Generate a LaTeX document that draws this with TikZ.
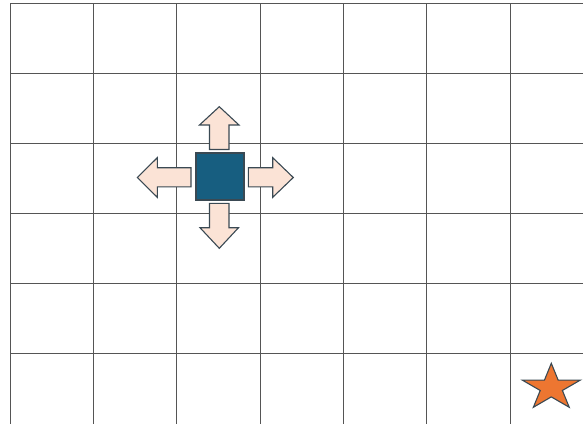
\documentclass[tikz,border=0pt]{standalone}
\definecolor{gridc}{HTML}{555555}
\definecolor{peach}{HTML}{FBE3D6}
\definecolor{edgec}{HTML}{3A4953}
\definecolor{sqfill}{HTML}{175E80}
\definecolor{starfill}{HTML}{ED7631}
\tikzset{
  gridline/.style={draw=gridc, line width=0.85pt},
  movearrow/.style={fill=peach, draw=edgec, line width=1.1pt, line join=miter},
  agent/.style={rectangle, fill=sqfill, draw=edgec, line width=1.1pt, minimum width=48pt, minimum height=47pt, inner sep=0pt},
  goalstar/.style={fill=starfill, draw=edgec, line width=1.1pt, line join=miter}
}
\begin{document}
\begin{tikzpicture}[x=1pt,y=-1pt]
\useasboundingbox (0,0) rectangle (583,424);
% grid
\foreach \gx in {10,93.3,176.7,260,343.3,426.7,510}{
  \draw[gridline] (\gx,3) -- (\gx,424);
}
\foreach \gy in {3,73,143,213,283,353}{
  \draw[gridline] (10,\gy) -- (583,\gy);
}
% agent
\node[agent] (agent) at (220,176.5) {};
% arrows
\draw[movearrow] (209.5,149.5) -- (209.5,125) -- (199.5,125) -- (219.3,106.7) -- (239,125) -- (229,125) -- (229,149.5) -- cycle;
\draw[movearrow] (209.5,203.3) -- (209.5,227.7) -- (200,227.7) -- (219.3,248.3) -- (238.5,227.7) -- (229,227.7) -- (229,203.3) -- cycle;
\draw[movearrow] (191,167.7) -- (157.3,167.7) -- (157.3,157.7) -- (137.3,177.5) -- (157.3,197.3) -- (157.3,186.9) -- (191,186.9) -- cycle;
\draw[movearrow] (248.3,167.7) -- (272.7,167.7) -- (272.7,157.7) -- (293.3,177.5) -- (272.7,197.3) -- (272.7,186.9) -- (248.3,186.9) -- cycle;
% goal star
\coordinate (goal) at (551.3,387.6);
\begin{scope}[shift={(goal)}, x=30.5pt, y=24.3pt]
\draw[goalstar] (90:1) -- (126:0.382) -- (162:1) -- (198:0.382) -- (234:1) -- (270:0.382) -- (306:1) -- (342:0.382) -- (18:1) -- (54:0.382) -- cycle;
\end{scope}
\end{tikzpicture}
\end{document}
